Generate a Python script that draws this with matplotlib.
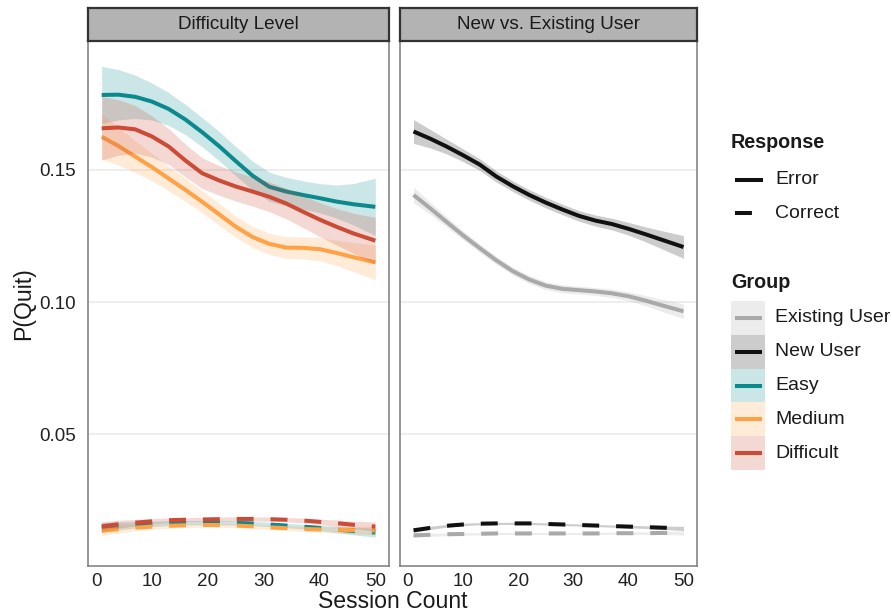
import matplotlib
matplotlib.use("Agg")
import matplotlib.pyplot as plt
from matplotlib.lines import Line2D
from matplotlib.patches import Rectangle
import numpy as np

plt.rcParams['font.family'] = ['Liberation Sans', 'DejaVu Sans']

# ---------------- data ----------------
session = [1, 4, 7, 10, 13, 16, 19, 22, 25, 28, 31, 34, 37, 40, 43, 46, 50]

# Difficulty Level panel - Error (solid)
easy_err = [.1783, .1784, .1776, .1758, .1730, .1690, .1642, .1590, .1533, .1478, .1436, .1418, .1405, .1393, .1380, .1370, .1360]
easy_err_se = [.0108, .0095, .0082, .0070, .0062, .0057, .0055, .0055, .0055, .0055, .0055, .0054, .0053, .0055, .0062, .0078, .0108]
medium_err = [.1625, .1590, .1550, .1510, .1467, .1424, .1379, .1332, .1285, .1246, .1220, .1206, .1205, .1200, .1186, .1170, .1150]
medium_err_se = [.0085, .0072, .0060, .0052, .0047, .0044, .0042, .0041, .0040, .0040, .0040, .0041, .0042, .0044, .0048, .0055, .0066]
difficult_err = [.1657, .1660, .1653, .1626, .1588, .1535, .1487, .1460, .1437, .1418, .1398, .1373, .1342, .1312, .1285, .1260, .1232]
difficult_err_se = [.0120, .0105, .0090, .0078, .0068, .0062, .0058, .0056, .0055, .0055, .0056, .0058, .0060, .0064, .0069, .0076, .0088]

# Difficulty Level panel - Correct (dashed)
easy_cor = [.0148, .0153, .0158, .0161, .0164, .0166, .0166, .0166, .0165, .0163, .0159, .0155, .0151, .0146, .0140, .0134, .0128]
medium_cor = [.0135, .0141, .0147, .0151, .0154, .0156, .0157, .0157, .0155, .0152, .0148, .0145, .0142, .0140, .0139, .0138, .0137]
difficult_cor = [.0152, .0160, .0166, .0171, .0175, .0177, .0178, .0179, .0180, .0180, .0179, .0177, .0174, .0169, .0164, .0158, .0151]
cor_se_diff = [.0018, .0015, .0012, .0010, .0009, .0008, .0008, .0008, .0008, .0008, .0008, .0008, .0009, .0010, .0012, .0014, .0017]

# New vs Existing panel - Error (solid)
new_err = [.1645, .1618, .1588, .1555, .1520, .1475, .1438, .1405, .1376, .1350, .1326, .1308, .1295, .1277, .1257, .1236, .1208]
new_err_se = [.0045, .0035, .0028, .0024, .0022, .0021, .0020, .0020, .0020, .0020, .0020, .0021, .0022, .0024, .0028, .0034, .0043]
exist_err = [.1405, .1355, .1303, .1252, .1204, .1158, .1117, .1085, .1062, .1050, .1045, .1040, .1033, .1022, .1006, .0988, .0965]
exist_err_se = [.0030, .0023, .0019, .0017, .0016, .0015, .0015, .0015, .0015, .0015, .0015, .0015, .0016, .0017, .0019, .0023, .0028]

# New vs Existing panel - Correct (dashed)
new_cor = [.0137, .0146, .0154, .0159, .0162, .0163, .0163, .0163, .0161, .0159, .0157, .0155, .0153, .0151, .0149, .0147, .0144]
exist_cor = [.0118, .0120, .0122, .0123, .0124, .0125, .0125, .0125, .0125, .0125, .0125, .0125, .0126, .0126, .0126, .0127, .0127]
cor_se_user = [.0008, .0006, .0005, .0005, .0004, .0004, .0004, .0004, .0004, .0004, .0004, .0004, .0004, .0005, .0005, .0006, .0008]

panel_titles = ["Difficulty Level", "New vs. Existing User"]
group_labels = ["Existing User", "New User", "Easy", "Medium", "Difficult"]
response_labels = ["Error", "Correct"]
yticks = [0.05, 0.10, 0.15]
xticks = [0, 10, 20, 30, 40, 50]

# ---------------- styles ----------------
col = {"Existing User": "#A9A9A9", "New User": "#111111",
       "Easy": "#0B8A8E", "Medium": "#FFA245", "Difficult": "#CB4B37"}
ALPHA = 0.21
LW = 2.9
DASH = (4.2, 4.2)
FS = 13.6

W, H = 892, 615
fig = plt.figure(figsize=(W / 100, H / 100), dpi=100)

def fx(px):
    return px / W

def fy(py):
    return 1 - py / H

p_top, p_bot = 41, 566
panels_x = [(88, 389), (400, 697)]
axes = []
for (l, r) in panels_x:
    ax = fig.add_axes([fx(l), fy(p_bot), fx(r) - fx(l), fy(p_top) - fy(p_bot)])
    axes.append(ax)
    st = fig.add_axes([fx(l), fy(p_top), fx(r) - fx(l), fy(8) - fy(p_top)])
    st.set_facecolor("#B3B3B3")
    st.set_xticks([]); st.set_yticks([])
    for s in st.spines.values():
        s.set_color("#333333"); s.set_linewidth(1.6)
    st.text(0.5, 0.5, panel_titles[len(axes) - 1], ha="center", va="center",
            fontsize=FS, color="#1A1A1A", transform=st.transAxes)

x = np.array(session)

def smooth(ax, y, se, c, dashed, z):
    y = np.array(y); se = np.array(se)
    ax.fill_between(x, y - se, y + se, color=c, alpha=ALPHA, linewidth=0, zorder=z)
    if dashed:
        ax.plot(x, y, color=c, lw=LW, dashes=DASH, zorder=z + 0.5)
    else:
        ax.plot(x, y, color=c, lw=LW, zorder=z + 0.5, solid_capstyle="butt",
                solid_joinstyle="round")

ax1, ax2 = axes
smooth(ax1, easy_err, easy_err_se, col["Easy"], False, 2)
smooth(ax1, medium_err, medium_err_se, col["Medium"], False, 3)
smooth(ax1, difficult_err, difficult_err_se, col["Difficult"], False, 4)
smooth(ax1, easy_cor, cor_se_diff, col["Easy"], True, 5)
smooth(ax1, medium_cor, cor_se_diff, col["Medium"], True, 6)
smooth(ax1, difficult_cor, cor_se_diff, col["Difficult"], True, 7)

smooth(ax2, exist_err, exist_err_se, col["Existing User"], False, 2)
smooth(ax2, new_err, new_err_se, col["New User"], False, 3)
smooth(ax2, exist_cor, cor_se_user, col["Existing User"], True, 4)
smooth(ax2, new_cor, cor_se_user, col["New User"], True, 5)

for i, ax in enumerate(axes):
    ax.set_xlim(-1.45, 52.45)
    ax.set_ylim(0.0002, 0.1987)
    ax.set_xticks(xticks)
    ax.set_yticks(yticks)
    ax.yaxis.grid(True, color="#EBEBEB", lw=1.2, zorder=0)
    ax.xaxis.grid(False)
    ax.set_axisbelow(True)
    ax.tick_params(length=0, labelsize=FS, labelcolor="#222222", pad=5)
    ax.tick_params(axis="y", pad=9)
    ax.set_yticklabels([f"{v:.2f}" for v in yticks])
    for s in ax.spines.values():
        s.set_color("#7A7A7A"); s.set_linewidth(1.1)
    ax.spines["top"].set_visible(False)
    if i == 1:
        ax.tick_params(axis="y", labelleft=False)

fig.text(fx(24), fy(303.5), "P(Quit)", rotation=90, ha="center", va="center",
         fontsize=16.6, color="#1A1A1A")
fig.text(fx(393), fy(602), "Session Count", ha="center", va="center",
         fontsize=16.6, color="#1A1A1A")

# ---------------- legend ----------------
fig.text(fx(731), fy(143), "Response", ha="left", va="center", fontsize=14.2,
         fontweight="bold", color="#1A1A1A")
for lab, yy, dashed in [(response_labels[0], 180, False), (response_labels[1], 213, True)]:
    ln = Line2D([fx(735), fx(763)], [fy(yy), fy(yy)], color="#111111", lw=LW,
                transform=fig.transFigure, solid_capstyle="butt")
    if dashed:
        ln.set_dashes(DASH)
    fig.add_artist(ln)
    fig.text(fx(775), fy(yy), lab, ha="left", va="center", fontsize=14.0, color="#1A1A1A")

fig.text(fx(731), fy(283), "Group", ha="left", va="center", fontsize=14.2,
         fontweight="bold", color="#1A1A1A")
box_h = 33.8
for k, lab in enumerate(group_labels):
    top = 301 + k * box_h
    c = col[lab]
    fig.add_artist(Rectangle((fx(731), fy(top + box_h)), fx(765) - fx(731), box_h / H,
                             transform=fig.transFigure, facecolor=c, alpha=ALPHA, linewidth=0))
    yy = top + box_h / 2
    fig.add_artist(Line2D([fx(735), fx(762)], [fy(yy), fy(yy)], color=c, lw=LW,
                          transform=fig.transFigure, solid_capstyle="butt"))
    fig.text(fx(775), fy(yy), lab, ha="left", va="center", fontsize=14.0, color="#1A1A1A")

fig.savefig("out.png", dpi=100)
